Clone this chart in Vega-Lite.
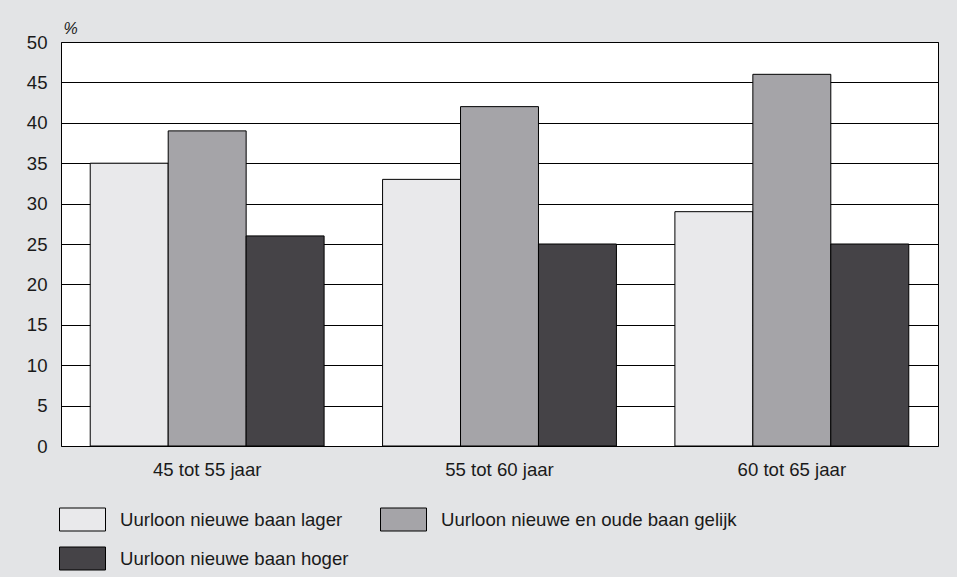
{
  "$schema": "https://vega.github.io/schema/vega-lite/v6.json",
  "width": 877,
  "height": 404,
  "autosize": {"type": "none"},
  "padding": {"left": 61, "top": 42, "right": 19, "bottom": 131},
  "background": "#e3e4e6",
  "config": {
    "view": {"fill": "white", "stroke": "black", "strokeWidth": 1},
    "font": "Liberation Sans"
  },
  "data": {
    "values": [
      {"groep": "45 tot 55 jaar", "serie": "Uurloon nieuwe baan lager", "waarde": 35},
      {"groep": "45 tot 55 jaar", "serie": "Uurloon nieuwe en oude baan gelijk", "waarde": 39},
      {"groep": "45 tot 55 jaar", "serie": "Uurloon nieuwe baan hoger", "waarde": 26},
      {"groep": "55 tot 60 jaar", "serie": "Uurloon nieuwe baan lager", "waarde": 33},
      {"groep": "55 tot 60 jaar", "serie": "Uurloon nieuwe en oude baan gelijk", "waarde": 42},
      {"groep": "55 tot 60 jaar", "serie": "Uurloon nieuwe baan hoger", "waarde": 25},
      {"groep": "60 tot 65 jaar", "serie": "Uurloon nieuwe baan lager", "waarde": 29},
      {"groep": "60 tot 65 jaar", "serie": "Uurloon nieuwe en oude baan gelijk", "waarde": 46},
      {"groep": "60 tot 65 jaar", "serie": "Uurloon nieuwe baan hoger", "waarde": 25}
    ]
  },
  "mark": {"type": "bar", "stroke": "black", "strokeWidth": 1},
  "encoding": {
    "x": {
      "field": "groep",
      "type": "nominal",
      "scale": {"paddingInner": 0.2, "paddingOuter": 0.1},
      "axis": {
        "title": null,
        "labelAngle": 0,
        "labelFontSize": 18.6,
        "labelColor": "#1a1a1a",
        "labelPadding": 14,
        "ticks": false,
        "domain": false
      }
    },
    "xOffset": {
      "field": "serie",
      "type": "nominal",
      "sort": ["Uurloon nieuwe baan lager", "Uurloon nieuwe en oude baan gelijk", "Uurloon nieuwe baan hoger"]
    },
    "y": {
      "field": "waarde",
      "type": "quantitative",
      "scale": {"domain": [0, 50], "nice": false},
      "axis": {
        "values": [0, 5, 10, 15, 20, 25, 30, 35, 40, 45, 50],
        "grid": true,
        "gridColor": "black",
        "gridOpacity": 1,
        "gridWidth": 1,
        "ticks": false,
        "domain": false,
        "labelFontSize": 18.6,
        "labelColor": "#1a1a1a",
        "labelPadding": 14,
        "title": "%",
        "titleAngle": 0,
        "titleX": 2,
        "titleY": -9,
        "titleAlign": "left",
        "titleBaseline": "alphabetic",
        "titleFontSize": 16,
        "titleFontWeight": "normal",
        "titleFontStyle": "italic",
        "titleColor": "#1a1a1a"
      }
    },
    "fill": {
      "field": "serie",
      "type": "nominal",
      "sort": ["Uurloon nieuwe baan lager", "Uurloon nieuwe en oude baan gelijk", "Uurloon nieuwe baan hoger"],
      "scale": {"range": ["#e9e9eb", "#a5a4a8", "#454347"]},
      "legend": {
        "orient": "none",
        "legendX": -2,
        "legendY": 454,
        "direction": "horizontal",
        "columns": 2,
        "title": null,
        "padding": 0,
        "symbolType": "M-1,-0.5H1V0.5H-1Z",
        "symbolSize": 2116,
        "symbolStrokeColor": "black",
        "symbolStrokeWidth": 1,
        "symbolOpacity": 1,
        "labelFontSize": 18.6,
        "labelColor": "#1a1a1a",
        "labelOffset": 14,
        "labelLimit": 400,
        "columnPadding": 29,
        "rowPadding": 2
      }
    }
  }
}
